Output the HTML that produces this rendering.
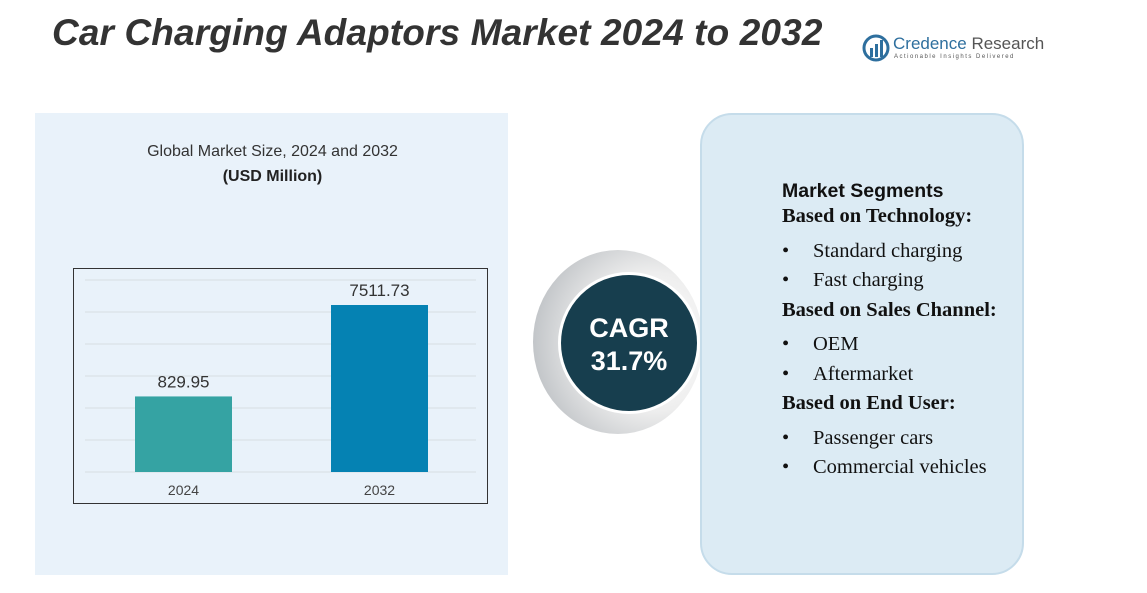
<!DOCTYPE html>
<html><head><meta charset="utf-8"><style>
body{margin:0;width:1147px;height:593px;background:#fff;position:relative;overflow:hidden;font-family:"Liberation Sans",sans-serif}
.abs{position:absolute}
.b{display:inline-block;width:31px}
</style></head><body>
<div class="abs" style="left:52px;top:12px;font-size:37px;font-weight:bold;font-style:italic;color:#333;letter-spacing:0.12px">Car Charging Adaptors Market 2024 to 2032</div>
<div class="abs" style="left:862px;top:34px;width:180px;height:30px">
<svg width="28" height="28" style="position:absolute;left:0;top:0"><circle cx="14" cy="14" r="12" fill="none" stroke="#2e6f9e" stroke-width="3"/><rect x="8" y="14" width="3" height="9" fill="#2e6f9e"/><rect x="13" y="10" width="3" height="13" fill="#2e6f9e"/><rect x="18" y="6" width="3" height="17" fill="#2e6f9e"/></svg>
<div class="abs" style="left:31px;top:0;font-size:17px;color:#2e6f9e;white-space:nowrap">Credence <span style="color:#555">Research</span></div>
<div class="abs" style="left:32px;top:20px;font-size:6px;letter-spacing:1.5px;color:#555;white-space:nowrap">Actionable Insights Delivered</div>
</div>
<div class="abs" style="left:35px;top:113px;width:473px;height:462px;background:#e9f2fa"></div>
<div class="abs" style="left:35px;top:143px;width:475px;text-align:center;font-size:16px;color:#333">Global Market Size, 2024 and 2032</div>
<div class="abs" style="left:35px;top:168px;width:475px;text-align:center;font-size:16px;font-weight:bold;color:#222">(USD Million)</div>
<svg class="abs" style="left:0;top:0" width="1147" height="593">
<rect x="73.5" y="268.5" width="414" height="235" fill="none" stroke="#333" stroke-width="1"/>
<g id="grid"></g><g id="bars"></g>
</svg>
<div class="abs" style="left:533px;top:250px;width:170px;height:184px;border-radius:50%;background:radial-gradient(circle at 72% 50%,#fff 0,#eeeeee 45%,#a9aeb3 100%)"></div>
<div class="abs" style="left:558px;top:272px;width:142px;height:142px;border-radius:50%;background:#173e4e;border:3px solid #fff;box-sizing:border-box;color:#fff;font-weight:bold;font-size:27px;text-align:center;line-height:33px;padding-top:37px">CAGR<br>31.7%</div>
<div class="abs" style="left:700px;top:113px;width:324px;height:462px;background:#dcebf4;border:2px solid #c5dcea;box-sizing:border-box;border-radius:32px"></div>
<div class="abs" style="left:782px;top:180px;color:#111;font-family:'Liberation Serif',serif;font-size:20.5px;white-space:nowrap">
<div style="font-family:'Liberation Sans',sans-serif;font-weight:bold;font-size:19.5px;height:25px">Market Segments</div>
<div style="font-weight:bold;height:35px">Based on Technology:</div>
<div style="height:29px"><span class="b">•</span>Standard charging</div>
<div style="height:30px"><span class="b">•</span>Fast charging</div>
<div style="font-weight:bold;height:34px">Based on Sales Channel:</div>
<div style="height:30px"><span class="b">•</span>OEM</div>
<div style="height:29px"><span class="b">•</span>Aftermarket</div>
<div style="font-weight:bold;height:35px">Based on End User:</div>
<div style="height:29px"><span class="b">•</span>Passenger cars</div>
<div><span class="b">•</span>Commercial vehicles</div>
</div>
<script>
const categories=["2024","2032"];
const values=[829.95,7511.73];
const valueLabels=["829.95","7511.73"];
const NS="http://www.w3.org/2000/svg";
const base=472, maxH=167, domainMax=7511.73;
function yScale(v){return base-maxH*Math.pow(Math.max(v,0)/domainMax,0.36);}
function xScale(i){return 135+i*196;}
const bw=97, colors=["#35a3a3","#0582b3"];
const grid=document.getElementById('grid');
for(let k=0;k<7;k++){const l=document.createElementNS(NS,'line');
l.setAttribute('x1',85);l.setAttribute('x2',476);l.setAttribute('y1',base-k*32);l.setAttribute('y2',base-k*32);
l.setAttribute('stroke','#d6dde3');l.setAttribute('stroke-width','1');


grid.appendChild(l);}
const g=document.getElementById('bars');
categories.forEach((c,i)=>{
const y=yScale(values[i]);
const r=document.createElementNS(NS,'rect');
r.setAttribute('x',xScale(i));r.setAttribute('y',y);r.setAttribute('width',bw);r.setAttribute('height',base-y);r.setAttribute('fill',colors[i]);


g.appendChild(r);
const t=document.createElementNS(NS,'text');
t.setAttribute('x',xScale(i)+bw/2);t.setAttribute('y',y-9);t.setAttribute('text-anchor','middle');t.setAttribute('font-size','17');t.setAttribute('fill','#333');t.setAttribute('font-family','Liberation Sans, sans-serif');
t.textContent=valueLabels[i];


g.appendChild(t);
const x=document.createElementNS(NS,'text');
x.setAttribute('x',xScale(i)+bw/2);x.setAttribute('y',495);x.setAttribute('text-anchor','middle');x.setAttribute('font-size','14');x.setAttribute('fill','#444');x.setAttribute('font-family','Liberation Sans, sans-serif');
x.textContent=c;


g.appendChild(x);
});
</script>
</body></html>
